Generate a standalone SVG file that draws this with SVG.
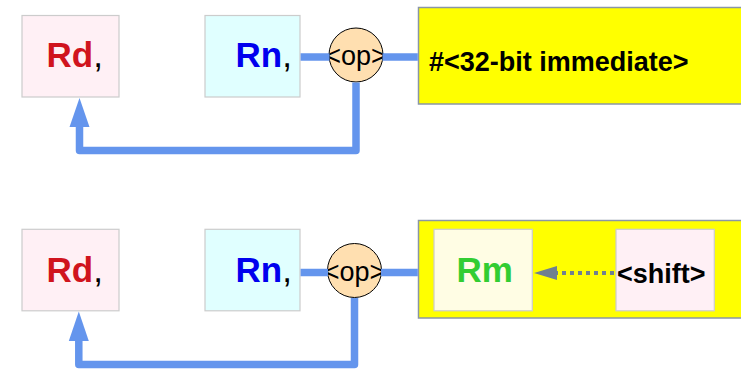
<svg xmlns="http://www.w3.org/2000/svg" width="741" height="369" viewBox="0 0 741 369">
<style>
.bg{fill:#ffffff}
.reg{stroke:#cccccc;stroke-width:1.2}
.rd{fill:#fff0f5}
.rn{fill:#e0ffff}
.rm{fill:#fffde4}
.yel{fill:#ffff00;stroke:#8a96a6;stroke-width:1.5}
.op{fill:#ffdfb0;stroke:#000;stroke-width:1}
.wire{fill:none;stroke:#6495ed;stroke-width:7.5;stroke-linejoin:round}
.dot{fill:none;stroke:#708090;stroke-width:4;stroke-dasharray:4 4}
.big{font-family:"Liberation Sans",Arial,sans-serif;font-weight:bold;font-size:35px}
.cm{font-family:"Liberation Sans",Arial,sans-serif;font-size:35px;fill:#000}
.optx{font-family:"Liberation Sans",Arial,sans-serif;font-size:27px;fill:#000;text-anchor:middle}
.lbl{font-family:"Liberation Sans",Arial,sans-serif;font-weight:bold;font-size:27px;fill:#000}
</style>
<rect class="bg" x="0" y="0" width="741" height="369"/>

<g id="imm-top">
  <rect class="yel" x="418.5" y="7.5" width="330" height="96.5"/>
  <text class="lbl" x="429" y="70.5">#&lt;32-bit immediate&gt;</text>
</g>

<g id="rd-top">
  <rect class="reg rd" x="22" y="15.5" width="97" height="81.5"/>
  <text class="big" x="46.5" y="67" fill="#d0141e">Rd<tspan class="cm" font-weight="normal">,</tspan></text>
</g>
<g id="rn-top">
  <rect class="reg rn" x="205" y="15.5" width="95" height="81.5"/>
  <text class="big" x="235.5" y="67" fill="#0000ee">Rn<tspan class="cm" font-weight="normal">,</tspan></text>
</g>
<g id="op-top">
  <circle class="op" cx="356" cy="55" r="27"/>
  <text class="optx" x="356" y="65">&lt;op&gt;</text>
</g>

<g id="shifted-reg">
  <rect class="yel" x="418.5" y="220.5" width="330" height="97.5"/>
</g>
<g id="rm">
  <rect class="reg rm" x="434" y="229.3" width="98.3" height="81.5"/>
  <text class="big" x="456.5" y="281.7" fill="#32cd32">Rm</text>
</g>
<g id="shift">
  <rect class="reg rd" x="616" y="229.3" width="98.3" height="81.5"/>
  <text class="lbl" x="617" y="283.3">&lt;shift&gt;</text>
</g>

<g id="rd-bottom">
  <rect class="reg rd" x="22" y="229.3" width="97" height="81.5"/>
  <text class="big" x="46.5" y="281.7" fill="#d0141e">Rd<tspan class="cm" font-weight="normal">,</tspan></text>
</g>
<g id="rn-bottom">
  <rect class="reg rn" x="205" y="229.3" width="95" height="81.5"/>
  <text class="big" x="235.5" y="281.7" fill="#0000ee">Rn<tspan class="cm" font-weight="normal">,</tspan></text>
</g>
<g id="op-bottom">
  <circle class="op" cx="354.5" cy="270.5" r="27"/>
  <text class="optx" x="354.5" y="280.5">&lt;op&gt;</text>
</g>

<g id="connectors">
  <line class="wire" x1="300.6" y1="57" x2="329.5" y2="57"/>
  <line class="wire" x1="382.5" y1="57" x2="417.8" y2="57"/>
  <path class="wire" d="M356 82.5 L356 150.5 L79.5 150.5 L79.5 124"/>
  <polygon points="79.5,98 69.5,127 89.5,127" fill="#6495ed"/>
  <line class="wire" x1="300.6" y1="272.5" x2="328" y2="272.5"/>
  <line class="wire" x1="381" y1="272.5" x2="417.8" y2="272.5"/>
  <path class="wire" d="M354.5 298 L354.5 364.5 L78.8 364.5 L78.8 338"/>
  <polygon points="78.8,311.5 68.8,341 88.8,341" fill="#6495ed"/>
  <line class="dot" x1="614" y1="273" x2="556" y2="273"/>
  <polygon points="534,273 557,266 557,280" fill="#708090"/>
</g>
</svg>
